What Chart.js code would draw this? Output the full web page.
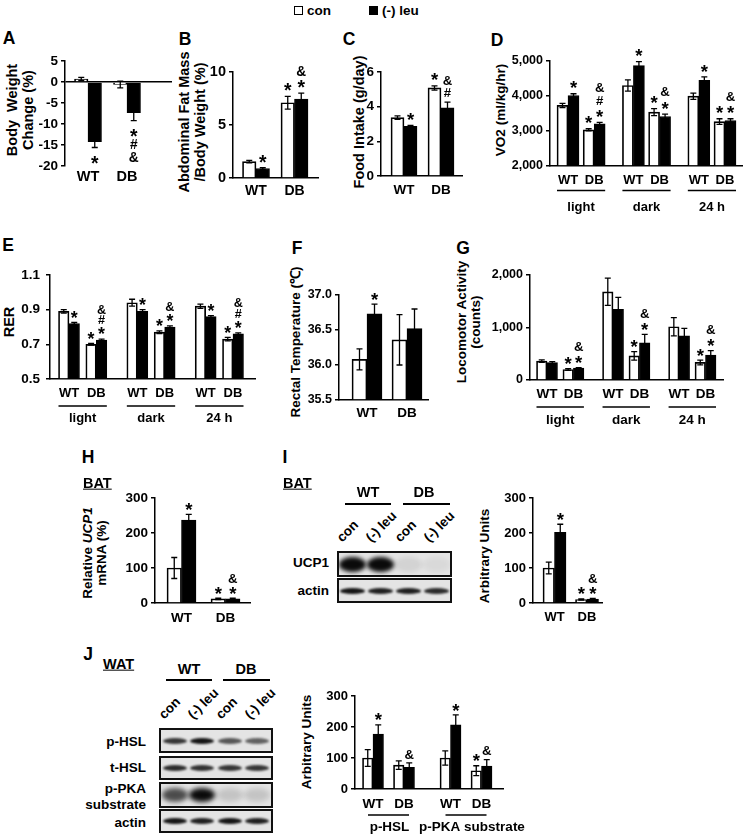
<!DOCTYPE html>
<html><head><meta charset="utf-8">
<script src="https://cdn.jsdelivr.net/npm/chart.js@4.4.1/dist/chart.umd.min.js"></script>
<style>
html,body{margin:0;padding:0;background:#fff;}
#fig{position:relative;width:745px;height:837px;overflow:hidden;font-family:'Liberation Sans',Arial,Helvetica,sans-serif;font-weight:bold;color:#000;background:#fff;}
canvas{position:absolute;}
</style></head>
<body><div id="fig"></div>
<script>
// ---------------- DATA ----------------
const seriesNames = ['con', '(-) leu'];
const genotypes = ['WT', 'DB'];
const periods = ['light', 'dark', '24 h'];
const proteins = ['p-HSL', 'p-PKA substrate'];

// A: body weight change (%)
const bwTicks = [-20, -15, -10, -5, 0, 5];
const bwCon = [0.7, -0.6], bwConErr = [0.4, 0.8];
const bwLeu = [-14.2, -7.3], bwLeuErr = [1.4, 1.9];
const bwConSig = [[], []], bwLeuSig = [['*'], ['*', '#', '&']];

// B: abdominal fat mass / body weight (%)
const fatTicks = [0, 5, 10];
const fatCon = [1.55, 7.1], fatConErr = [0.12, 0.6];
const fatLeu = [0.9, 7.45], fatLeuErr = [0.08, 0.55];
const fatConSig = [[], ['*']], fatLeuSig = [['*'], ['*', '&']];

// C: food intake (g/day)
const foodTicks = [0, 2, 4, 6];
const foodCon = [3.37, 5.08], foodConErr = [0.1, 0.12];
const foodLeu = [2.87, 3.94], foodLeuErr = [0.05, 0.32];
const foodConSig = [[], ['*']], foodLeuSig = [['*'], ['#', '&']];

// D: VO2 (ml/kg/hr)  order: light WT, light DB, dark WT, dark DB, 24h WT, 24h DB
const vo2Ticks = [2000, 3000, 4000, 5000];
const vo2TickLabels = ['2,000', '3,000', '4,000', '5,000'];
const vo2Con = [3730, 3035, 4300, 3540, 3995, 3270], vo2ConErr = [60, 30, 160, 100, 90, 80];
const vo2Leu = [4015, 3205, 4870, 3415, 4445, 3300], vo2LeuErr = [50, 40, 110, 70, 100, 50];
const vo2ConSig = [[], ['*'], [], ['*'], [], ['*']];
const vo2LeuSig = [['*'], ['*', '#', '&'], ['*'], ['*', '&'], ['*'], ['*', '&']];

// E: RER
const rerTicks = [0.5, 0.7, 0.9, 1.1];
const rerTickLabels = ['0.5', '0.7', '0.9', '1.1'];
const rerCon = [0.89, 0.70, 0.94, 0.77, 0.92, 0.73], rerConErr = [0.01, 0.005, 0.02, 0.008, 0.012, 0.01];
const rerLeu = [0.82, 0.725, 0.89, 0.80, 0.86, 0.76], rerLeuErr = [0.006, 0.005, 0.01, 0.006, 0.006, 0.006];
const rerConSig = [[], ['*'], [], ['*'], [], ['*']];
const rerLeuSig = [['*'], ['*', '#', '&'], ['*'], ['*', '&'], ['*'], ['*', '#', '&']];

// F: rectal temperature
const tempTicks = [35.5, 36.0, 36.5, 37.0];
const tempTickLabels = ['35.5', '36.0', '36.5', '37.0'];
const tempCon = [36.08, 36.36], tempConErr = [0.15, 0.36];
const tempLeu = [36.73, 36.52], tempLeuErr = [0.14, 0.28];
const tempConSig = [[], []], tempLeuSig = [['*'], []];

// G: locomotor activity (counts)
const locoTicks = [0, 1000, 2000];
const locoTickLabels = ['0', '1,000', '2,000'];
const locoCon = [360, 200, 1680, 460, 1015, 335], locoConErr = [25, 15, 260, 80, 175, 45];
const locoLeu = [330, 225, 1345, 710, 840, 475], locoLeuErr = [20, 10, 230, 160, 145, 85];
const locoConSig = [[], ['*'], [], ['*'], [], ['*']];
const locoLeuSig = [[], ['*', '&'], [], ['*', '&'], [], ['*', '&']];

// H: relative UCP1 mRNA (%)
const mrnaTicks = [0, 100, 200, 300];
const mrnaCon = [100, 12], mrnaConErr = [30, 2];
const mrnaLeu = [237, 12], mrnaLeuErr = [16, 2];
const mrnaConSig = [[], ['*']], mrnaLeuSig = [['*'], ['*', '&']];

// I: UCP1 protein (arbitrary units)
const ucpTicks = [0, 100, 200, 300];
const ucpCon = [100, 10], ucpConErr = [17, 2];
const ucpLeu = [202, 11], ucpLeuErr = [23, 2];
const ucpConSig = [[], ['*']], ucpLeuSig = [['*'], ['*', '&']];

// J: WAT p-HSL / p-PKA substrate (arbitrary units)  order: p-HSL WT, p-HSL DB, p-PKA WT, p-PKA DB
const watTicks = [0, 100, 200, 300];
const watCon = [100, 77, 100, 59], watConErr = [27, 14, 23, 16];
const watLeu = [177, 70, 207, 74], watLeuErr = [30, 14, 32, 21];
const watConSig = [[], [], [], ['*']], watLeuSig = [['*'], ['&'], ['*'], ['&']];

// Western blot band intensities (lanes: WT con, WT (-)leu, DB con, DB (-)leu)
const laneLabels = ['con', '(-) leu', 'con', '(-) leu'];
const batUcp1Bands = [1.0, 1.0, 0.08, 0.05];
const batActinBands = [0.95, 0.9, 0.9, 0.85];
const watPhslBands = [0.8, 0.95, 0.65, 0.6];
const watThslBands = [0.85, 0.82, 0.8, 0.8];
const watPpkaBands = [0.7, 1.0, 0.14, 0.14];
const watActinBands = [0.95, 0.9, 0.95, 0.9];

// ---------------- DRAWING ----------------
const FONT = "'Liberation Sans', Arial, Helvetica, sans-serif";
Chart.defaults.font.family = FONT;
Chart.defaults.font.weight = 'bold';
Chart.defaults.color = '#000';
const GROUP_STEP = 2.5;
const SIG_OFF = {'*': 0.57, '#': 0.36, '&': 0.36};
const SIG_SCALE = {'*': 1.55, '#': 1.1, '&': 1.1};
const fig = document.getElementById('fig');

function el(tag, css, html, parent) {
  const e = document.createElement(tag);
  Object.assign(e.style, css);
  if (html != null) e.innerHTML = html;
  (parent || fig).appendChild(e);
  return e;
}
function text(s, x, y, size, anchor, extra) {
  const tr = anchor === 'l' ? 'translate(0,-50%)' : anchor === 'r' ? 'translate(-100%,-50%)' : 'translate(-50%,-50%)';
  return el('div', Object.assign({position: 'absolute', left: x + 'px', top: y + 'px', fontSize: size + 'px',
    lineHeight: '1.15', whiteSpace: 'nowrap', transform: tr}, extra || {}), s);
}
function vtext(s, x, y, size, lh) {
  return el('div', {position: 'absolute', left: x + 'px', top: y + 'px', fontSize: size + 'px',
    lineHeight: (lh || Math.round(size * 1.15)) + 'px', whiteSpace: 'nowrap', textAlign: 'center',
    transform: 'translate(-50%,-50%) rotate(-90deg)'}, s);
}
function hline(x1, x2, y, w) {
  w = w || 1.5;
  el('div', {position: 'absolute', left: x1 + 'px', top: (y - w / 2) + 'px', width: (x2 - x1) + 'px', height: w + 'px', background: '#000'});
}
function tilt(s, x, y, size) {
  el('div', {position: 'absolute', left: x + 'px', top: (y - size) + 'px', fontSize: size + 'px', lineHeight: size + 'px',
    whiteSpace: 'nowrap', transformOrigin: '0 100%', transform: 'rotate(-45deg)'}, s);
}
function blotRow(x, y, w, h, levels, bh, bw, blur) {
  const box = el('div', {position: 'absolute', left: x + 'px', top: y + 'px', width: w + 'px', height: h + 'px',
    boxSizing: 'border-box', border: '2px solid #111', background: '#e4e4e4', overflow: 'hidden'});
  const iw = w - 4, ih = h - 4;
  levels.forEach((a, i) => {
    const cx = iw * (i + 0.5) / levels.length;
    el('div', {position: 'absolute', left: (cx - bw / 2) + 'px', top: (ih / 2 - bh / 2) + 'px', width: bw + 'px', height: bh + 'px',
      borderRadius: '50%', background: 'rgba(10,10,10,' + a + ')', filter: 'blur(' + blur + 'px)'}, null, box);
  });
}

const extras = {
  id: 'extras',
  afterDraw(chart, args, o) {
    const ctx = chart.ctx, xs = chart.scales.x, ys = chart.scales.y;
    ctx.save();
    chart.data.datasets.forEach((ds, di) => {
      chart.getDatasetMeta(di).data.forEach((bar, i) => {
        const v = ds.data[i].y, e = ds.errors[i], x = bar.x;
        const yHi = ys.getPixelForValue(v + e), yLo = ys.getPixelForValue(v - e);
        ctx.strokeStyle = '#000'; ctx.lineWidth = 1.3;
        ctx.beginPath();
        ctx.moveTo(x, yHi); ctx.lineTo(x, yLo);
        ctx.moveTo(x - o.cap, yHi); ctx.lineTo(x + o.cap, yHi);
        ctx.moveTo(x - o.cap, yLo); ctx.lineTo(x + o.cap, yLo);
        ctx.stroke();
        ctx.fillStyle = '#000'; ctx.textAlign = 'center'; ctx.textBaseline = 'alphabetic';
        (ds.sig[i] || []).forEach((m, k) => {
          const sz = o.sigSize * SIG_SCALE[m];
          ctx.font = 'bold ' + sz + 'px ' + FONT;
          const cy = v >= 0 ? yHi - o.c0 - k * o.gap : yLo + o.c0 + k * o.gap;
          ctx.fillText(m, x, cy + SIG_OFF[m] * sz);
        });
      });
    });
    if (o.groups) {
      const b = chart.chartArea.bottom;
      ctx.strokeStyle = '#000'; ctx.fillStyle = '#000'; ctx.lineWidth = 1.5;
      ctx.font = 'bold ' + o.groupSize + 'px ' + FONT; ctx.textAlign = 'center'; ctx.textBaseline = 'middle';
      o.groups.forEach((g, gi) => {
        const a = xs.getPixelForValue(gi * GROUP_STEP) - o.ext;
        const z = xs.getPixelForValue(gi * GROUP_STEP + o.nCat - 1) + o.ext;
        ctx.beginPath(); ctx.moveTo(a, b + o.lineOff); ctx.lineTo(z, b + o.lineOff); ctx.stroke();
        ctx.fillText(g, (a + z) / 2 + (o.labelShift ? o.labelShift[gi] : 0), b + o.labelOff);
      });
    }
    ctx.restore();
  }
};

const YW = 52, PT = 26, PR = 40;
function barChart(c) {
  const xh = c.groups ? 60 : 30;
  const W = c.x1 - c.x0 + YW + PR, H = c.yB - c.yT + PT + xh;
  const cv = document.createElement('canvas');
  cv.width = W; cv.height = H;
  cv.style.left = (c.x0 - YW) + 'px'; cv.style.top = (c.yT - PT) + 'px';
  fig.appendChild(cv);
  const groups = c.groups || [null];
  const pos = [], labels = [];
  groups.forEach((g, gi) => c.cats.forEach((k, ci) => { pos.push(gi * GROUP_STEP + ci); labels.push(k); }));
  const lastPos = pos[pos.length - 1];
  const unit = (c.lastC - c.firstC) / lastPos;
  const xmin = (c.x0 - c.firstC) / unit, xmax = (c.x1 - c.firstC) / unit;
  const yt = c.yTicks, ytl = c.yTickLabels || c.yTicks.map(String);
  const base = yt[0] > 0 ? yt[0] : 0;
  const mk = (vals, errs, sig, style) => Object.assign({data: vals.map((v, i) => ({x: pos[i], y: v})), errors: errs, sig: sig, base: base}, style);
  new Chart(cv, {
    type: 'bar',
    data: {datasets: [
      mk(c.con, c.conErr, c.conSig, {label: seriesNames[0], backgroundColor: '#fff', borderColor: '#000', borderWidth: 1.7}),
      mk(c.leu, c.leuErr, c.leuSig, {label: seriesNames[1], backgroundColor: '#000', borderColor: '#000', borderWidth: 1})
    ]},
    options: {
      responsive: false, animation: false, devicePixelRatio: 1,
      layout: {padding: {left: 0, top: PT, right: PR, bottom: 0}},
      datasets: {bar: {barThickness: c.bt, grouped: true}},
      plugins: {legend: {display: false}, tooltip: {enabled: false},
        extras: {cap: 3, sigSize: c.sigSize || 12, c0: c.c0 || 9, gap: c.gap || 12,
          groups: c.groups, nCat: c.cats.length, ext: c.ext, lineOff: c.lineOff, labelOff: c.labelOff,
          groupSize: c.groupSize, labelShift: c.labelShift}},
      scales: {
        x: {type: 'linear', min: xmin, max: xmax, offset: false, z: 1,
          grid: {display: false, drawTicks: false},
          border: {display: c.xBorder !== false, color: '#000', width: 1.5},
          afterBuildTicks: a => { a.ticks = pos.map(v => ({value: v})); },
          afterFit: a => { a.height = xh; },
          ticks: {autoSkip: false, maxRotation: 0, minRotation: 0, padding: c.catPad, font: {size: c.catSize}, callback: (v, i) => labels[i]}},
        y: {type: 'linear', min: yt[0], max: yt[yt.length - 1], z: 1,
          afterBuildTicks: a => { a.ticks = yt.map(v => ({value: v})); },
          afterFit: a => { a.width = YW; },
          ticks: {font: {size: c.tickSize}, padding: c.tickPad || 3, callback: (v, i) => ytl[i]},
          grid: {drawOnChartArea: !!c.zero, lineWidth: 1.5, tickLength: 4, tickColor: '#000', tickWidth: 1.5,
            color: ctx => (c.zero && ctx.tick && ctx.tick.value === 0) ? '#000' : 'rgba(0,0,0,0)'},
          border: {color: '#000', width: 1.5}}
      }
    },
    plugins: [extras]
  });
}

// ---------------- LEGEND ----------------
el('div', {position: 'absolute', left: '294px', top: '6px', width: '9px', height: '9px', boxSizing: 'border-box', border: '1.5px solid #000', background: '#fff'});
text(seriesNames[0], 307, 11, 13.5, 'l');
el('div', {position: 'absolute', left: '369px', top: '6px', width: '9px', height: '9px', background: '#000'});
text(seriesNames[1], 382, 11, 13.5, 'l');

// ---------------- PANEL LETTERS ----------------
[['A', 9, 38], ['B', 185, 39], ['C', 349, 39], ['D', 497, 40], ['E', 8, 245], ['F', 297, 248],
 ['G', 463, 248], ['H', 88, 457], ['I', 285, 457], ['J', 88, 654]].forEach(p => text(p[0], p[1], p[2], 17.5, 'c'));

// ---------------- AXIS TITLES ----------------
vtext('Body&nbsp;&nbsp;Weight<br>Change (%)', 20, 110, 14.5, 16);
vtext('Abdominal Fat Mass<br>/Body Weight (%)', 192, 122, 14.5, 16);
vtext('Food Intake (g/day)', 359, 122, 14.5);
vtext('VO2 (ml/kg/hr)', 501, 110, 13.5);
vtext('RER', 9, 322, 14.5);
vtext('Rectal Temperature (℃)', 296, 342, 13.5);
vtext('Locomotor Activity<br>(counts)', 469, 322, 13.5, 14);
vtext('Relative <i>UCP1</i><br>mRNA (%)', 95, 553, 13.5, 14);
vtext('Arbitrary Units', 485, 556, 13.5);
vtext('Arbitrary Units', 307, 742, 13.5);

// ---------------- CHARTS ----------------
barChart({x0: 65, x1: 172, yT: 61, yB: 166, yTicks: bwTicks, cats: genotypes, firstC: 88, lastC: 127, bt: 13.5,
  con: bwCon, conErr: bwConErr, conSig: bwConSig, leu: bwLeu, leuErr: bwLeuErr, leuSig: bwLeuSig,
  catSize: 14.5, catPad: 2, tickSize: 13.5, zero: true, xBorder: false, sigSize: 12.5, c0: 11, gap: 12.5});
barChart({x0: 233, x1: 318, yT: 72, yB: 178, yTicks: fatTicks, cats: genotypes, firstC: 256, lastC: 294.5, bt: 13.5,
  con: fatCon, conErr: fatConErr, conSig: fatConSig, leu: fatLeu, leuErr: fatLeuErr, leuSig: fatLeuSig,
  catSize: 14, catPad: 5, tickSize: 14.5, sigSize: 12.5, c0: 10, gap: 12.5});
barChart({x0: 381, x1: 462, yT: 72, yB: 176, yTicks: foodTicks, cats: genotypes, firstC: 404, lastC: 441, bt: 13,
  con: foodCon, conErr: foodConErr, conSig: foodConSig, leu: foodLeu, leuErr: foodLeuErr, leuSig: foodLeuSig,
  catSize: 13.5, catPad: 6, tickSize: 13.5, sigSize: 12, c0: 10, gap: 12});
barChart({x0: 550, x1: 742, yT: 60.5, yB: 165.5, yTicks: vo2Ticks, yTickLabels: vo2TickLabels, cats: genotypes, groups: periods,
  firstC: 568, lastC: 725, bt: 11,
  con: vo2Con, conErr: vo2ConErr, conSig: vo2ConSig, leu: vo2Leu, leuErr: vo2LeuErr, leuSig: vo2LeuSig,
  catSize: 13, catPad: 7, tickSize: 12.5, sigSize: 12, c0: 10, gap: 12.5, ext: 11, lineOff: 24.5, labelOff: 41.5, groupSize: 13});
barChart({x0: 50, x1: 255, yT: 275, yB: 379, yTicks: rerTicks, yTickLabels: rerTickLabels, cats: genotypes, groups: periods,
  firstC: 69, lastC: 233, bt: 10.5,
  con: rerCon, conErr: rerConErr, conSig: rerConSig, leu: rerLeu, leuErr: rerLeuErr, leuSig: rerLeuSig,
  catSize: 13, catPad: 7, tickSize: 13.5, tickPad: 6, sigSize: 11.5, c0: 9, gap: 10.5, ext: 10.5, lineOff: 27, labelOff: 39, groupSize: 13});
barChart({x0: 339, x1: 428, yT: 294.5, yB: 400, yTicks: tempTicks, yTickLabels: tempTickLabels, cats: genotypes, firstC: 367, lastC: 407, bt: 15,
  con: tempCon, conErr: tempConErr, conSig: tempConSig, leu: tempLeu, leuErr: tempLeuErr, leuSig: tempLeuSig,
  catSize: 13.5, catPad: 5, tickSize: 12.5, sigSize: 12, c0: 9, gap: 12});
barChart({x0: 530, x1: 723, yT: 275, yB: 380, yTicks: locoTicks, yTickLabels: locoTickLabels, cats: genotypes, groups: periods,
  firstC: 547, lastC: 705.5, bt: 10.5,
  con: locoCon, conErr: locoConErr, conSig: locoConSig, leu: locoLeu, leuErr: locoLeuErr, leuSig: locoLeuSig,
  catSize: 13.5, catPad: 6, tickSize: 12.5, sigSize: 12, c0: 9, gap: 12.5, ext: 10.5, lineOff: 27, labelOff: 40, groupSize: 13.5});
barChart({x0: 155, x1: 250, yT: 498, yB: 603, yTicks: mrnaTicks, cats: genotypes, firstC: 181.5, lastC: 225.5, bt: 14.5,
  con: mrnaCon, conErr: mrnaConErr, conSig: mrnaConSig, leu: mrnaLeu, leuErr: mrnaLeuErr, leuSig: mrnaLeuSig,
  catSize: 13.5, catPad: 7, tickSize: 13.5, sigSize: 12, c0: 9, gap: 11});
barChart({x0: 533, x1: 602, yT: 498, yB: 603, yTicks: ucpTicks, cats: genotypes, firstC: 554.5, lastC: 587, bt: 11.5,
  con: ucpCon, conErr: ucpConErr, conSig: ucpConSig, leu: ucpLeu, leuErr: ucpLeuErr, leuSig: ucpLeuSig,
  catSize: 13, catPad: 7, tickSize: 13, sigSize: 12, c0: 9, gap: 11});
barChart({x0: 355, x1: 503, yT: 696, yB: 789, yTicks: watTicks, cats: genotypes, groups: proteins,
  firstC: 373, lastC: 481.5, bt: 10.5,
  con: watCon, conErr: watConErr, conSig: watConSig, leu: watLeu, leuErr: watLeuErr, leuSig: watLeuSig,
  catSize: 13.5, catPad: 7, tickSize: 13, sigSize: 12, c0: 9, gap: 12, ext: 5, lineOff: 26, labelOff: 38, groupSize: 13.5,
  labelShift: [1, 6]});

// ---------------- H / I / J tissue labels ----------------
text('BAT', 83, 483, 14.5, 'l', {textDecoration: 'underline'});
text('BAT', 283, 483, 14.5, 'l', {textDecoration: 'underline'});
text('WAT', 103, 664, 14.5, 'l', {textDecoration: 'underline'});

// ---------------- I blot ----------------
text(genotypes[0], 368, 492, 14.5, 'c'); text(genotypes[1], 424, 492, 14.5, 'c');
hline(345, 391, 504); hline(403, 450, 504);
[351, 380, 409, 438].forEach((lx, i) => tilt(laneLabels[i], lx - 7, 544, 13.5));
blotRow(337, 551, 115, 26, batUcp1Bands, 15, 27, 2);
blotRow(337, 578, 115, 25, batActinBands, 6, 25, 1);
text('UCP1', 329, 563, 13.5, 'r'); text('actin', 329, 591, 13.5, 'r');

// ---------------- J blot ----------------
text(genotypes[0], 189, 669, 14.5, 'c'); text(genotypes[1], 246, 669, 14.5, 'c');
hline(166, 212, 680); hline(223, 270, 680);
[173, 202, 230, 259].forEach((lx, i) => tilt(laneLabels[i], lx - 7, 721, 13.5));
blotRow(159, 728, 114, 25, watPhslBands, 6, 24, 1);
blotRow(159, 756, 114, 24, watThslBands, 6, 24, 1);
blotRow(159, 782, 114, 26, watPpkaBands, 14, 26, 2.5);
blotRow(159, 809, 114, 24, watActinBands, 6, 24, 1);
text('p-HSL', 146, 742, 13.5, 'r'); text('t-HSL', 146, 768, 13.5, 'r');
text('p-PKA', 146, 789, 13.5, 'r'); text('substrate', 146, 805, 13.5, 'r');
text('actin', 146, 823, 13.5, 'r');
</script>
</body></html>
